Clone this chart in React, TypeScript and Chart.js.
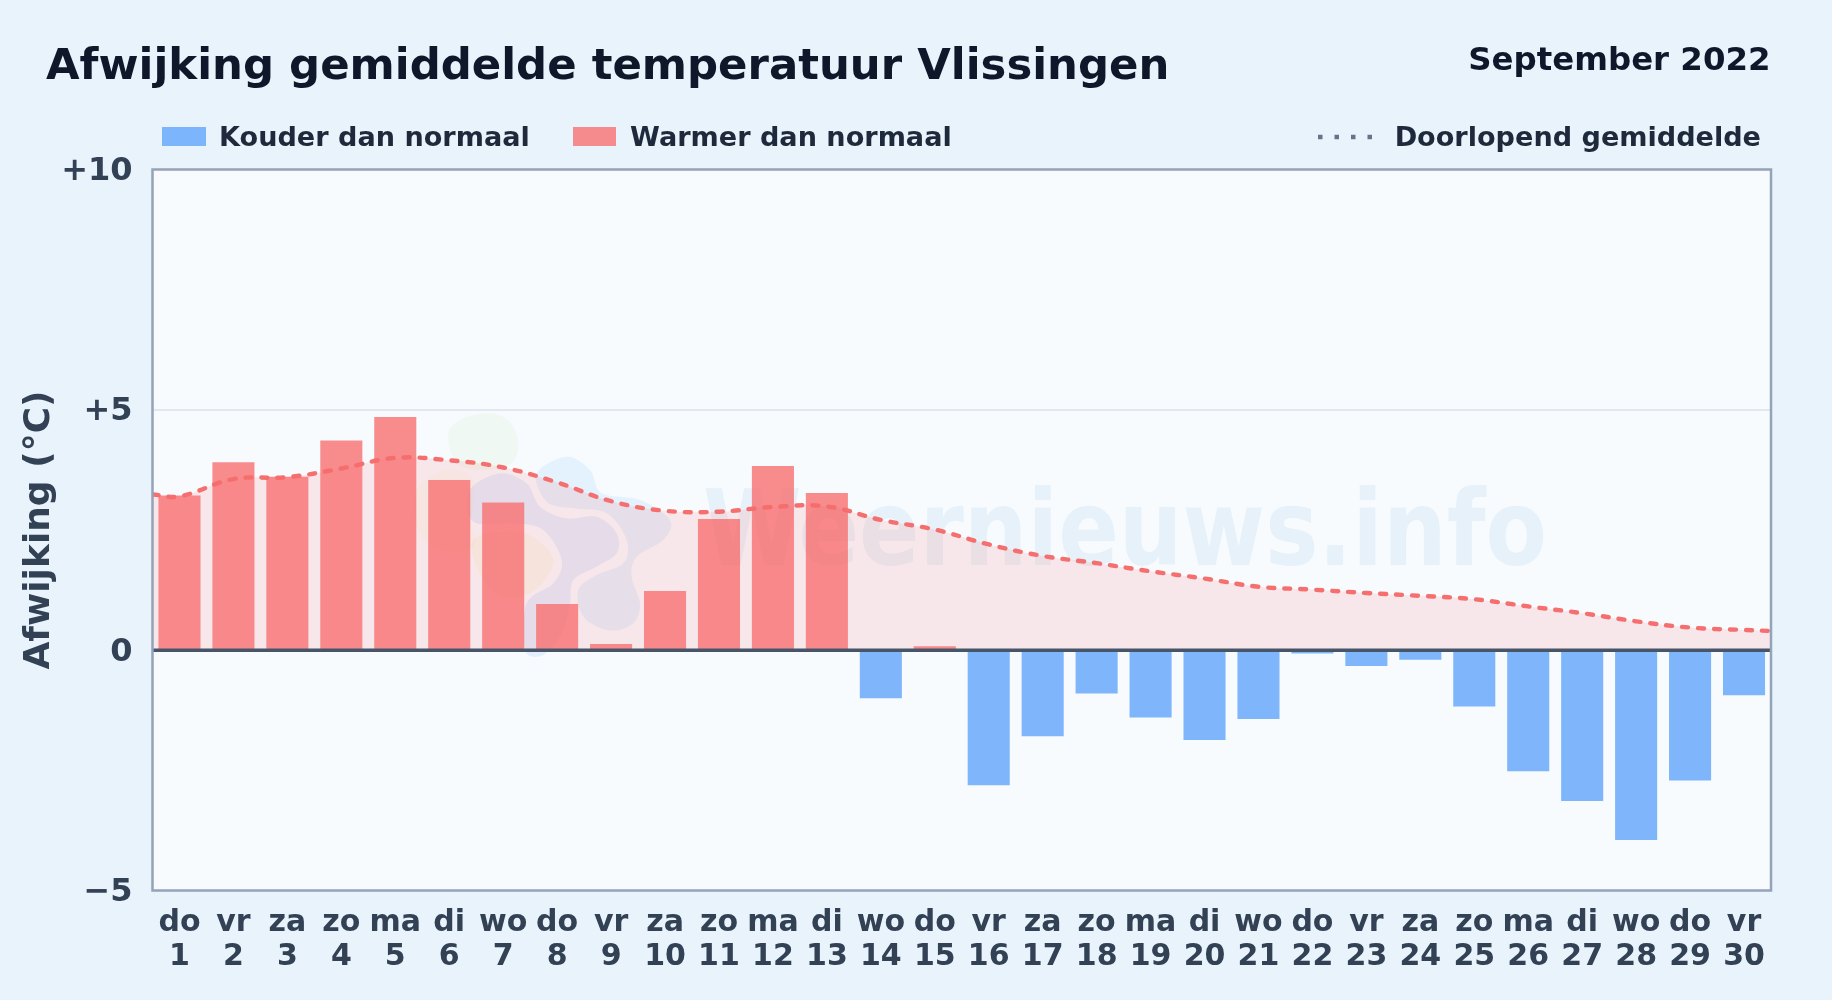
import React, { useEffect, useRef } from "react";
import { Chart, registerables } from "chart.js";

Chart.register(...registerables);

const weekdays = ["do","vr","za","zo","ma","di","wo","do","vr","za","zo","ma","di","wo","do","vr","za","zo","ma","di","wo","do","vr","za","zo","ma","di","wo","do","vr"];
const dayNumbers = ["1","2","3","4","5","6","7","8","9","10","11","12","13","14","15","16","17","18","19","20","21","22","23","24","25","26","27","28","29","30"];
const deviations = [3.22,3.91,3.61,4.36,4.85,3.54,3.07,0.96,0.13,1.23,2.73,3.83,3.27,-1.0,0.08,-2.81,-1.79,-0.9,-1.4,-1.87,-1.43,-0.07,-0.33,-0.2,-1.17,-2.52,-3.14,-3.95,-2.71,-0.94];
const trendDays = [0.5,1,2,3,4,5,6,7,8,9,10,11,12,13,14,15,16,17,18,19,20,21,22,23,24,25,26,27,28,29,30,30.5];
const trendValues = [3.24,3.2,3.56,3.6,3.78,4.0,3.95,3.8,3.49,3.1,2.9,2.88,2.98,2.99,2.71,2.51,2.2,1.96,1.81,1.64,1.49,1.32,1.26,1.19,1.13,1.06,0.91,0.77,0.6,0.47,0.42,0.4];
const yTicks = [-5, 0, 5, 10];

const titleText = "Afwijking gemiddelde temperatuur Vlissingen";
const periodText = "September 2022";
const watermarkText = "Weernieuws.info";
const FONT = '"DejaVu Sans", sans-serif';
const COLD = "rgba(96,165,250,0.8)";
const WARM = "rgba(248,113,113,0.8)";

// Decorative watermark outlines (not data)
const mapGreen = [[325,130],[370,85],[450,70],[510,95],[535,160],[515,220],[440,240],[350,220]];
const mapYellowLeft = [[230,300],[320,240],[400,270],[395,400],[400,470],[300,480],[235,420]];
const mapYellow = [[400,450],[480,425],[570,435],[640,510],[585,600],[480,620],[410,530]];
const mapCentre = [[390,300],[480,250],[560,280],[600,350],[680,385],[770,380],[830,430],[830,490],[770,530],[700,570],[690,640],[665,730],[610,795],[555,780],[560,640],[640,580],[665,510],[610,420],[520,400],[400,395]];
const mapBlue = [[590,250],[680,200],[750,240],[785,310],[900,330],[990,390],[970,450],[890,500],[875,560],[900,640],[880,700],[810,722],[730,680],[715,600],[770,555],[850,520],[860,450],[800,370],[700,355],[620,335]];

function blob(ctx: CanvasRenderingContext2D, pts: number[][], fill: string) {
  const p = pts.map(([x, y]) => [340 + x / 3, 390 + y / 3]);
  const n = p.length;
  ctx.fillStyle = fill;
  ctx.beginPath();
  ctx.moveTo(p[0][0], p[0][1]);
  for (let i = 0; i < n; i++) {
    const a = p[(i - 1 + n) % n], b = p[i], c = p[(i + 1) % n], d = p[(i + 2) % n];
    ctx.bezierCurveTo(b[0] + (c[0] - a[0]) / 6, b[1] + (c[1] - a[1]) / 6, c[0] - (d[0] - b[0]) / 6, c[1] - (d[1] - b[1]) / 6, c[0], c[1]);
  }
  ctx.closePath();
  ctx.fill();
}

let labelsShifted = false;

const backdrop = {
  id: "backdrop",
  beforeDraw(chart: any) {
    const { ctx, chartArea: a } = chart;
    ctx.save();
    ctx.fillStyle = "#f7fbfe";
    ctx.fillRect(a.left, a.top, a.right - a.left, a.bottom - a.top);
    ctx.restore();
    const items = chart.scales.y.getLabelItems();
    if (!labelsShifted) {
      items.forEach((it: any) => { it.options.translation[1] += 2.3; });
      labelsShifted = true;
    }
  },
  beforeDatasetsDraw(chart: any) {
    const { ctx } = chart;
    ctx.save();
    blob(ctx, mapGreen, "rgba(180,220,130,0.09)");
    blob(ctx, mapYellowLeft, "rgba(245,225,150,0.10)");
    blob(ctx, mapYellow, "rgba(245,225,150,0.16)");
    blob(ctx, mapBlue, "rgba(125,200,250,0.16)");
    blob(ctx, mapCentre, "rgba(59,130,246,0.10)");
    ctx.fillStyle = "rgba(40,120,190,0.075)";
    ctx.font = `bold 105px ${FONT}`;
    ctx.textAlign = "left";
    ctx.textBaseline = "alphabetic";
    const fit = 844 / ctx.measureText(watermarkText).width;
    ctx.translate(703, 565);
    ctx.scale(fit, 1);
    ctx.fillText(watermarkText, 0, 0);
    ctx.restore();
  },
  afterDatasetsDraw(chart: any) {
    const { ctx, chartArea: a, scales } = chart;
    const zero = scales.y.getPixelForValue(0);
    ctx.save();
    ctx.strokeStyle = "#475569";
    ctx.lineWidth = 3.5;
    ctx.beginPath();
    ctx.moveTo(a.left, zero);
    ctx.lineTo(a.right, zero);
    ctx.stroke();
    ctx.strokeStyle = "#94a3b8";
    ctx.lineWidth = 2.5;
    ctx.strokeRect(a.left, a.top, a.right - a.left, a.bottom - a.top);
    ctx.restore();
  },
  afterDraw(chart: any) {
    const { ctx, data } = chart;
    const [cold, warm, trend] = data.datasets;
    ctx.save();
    ctx.textBaseline = "alphabetic";
    ctx.textAlign = "left";
    ctx.fillStyle = "#0f172a";
    ctx.font = `bold 43.4px ${FONT}`;
    ctx.fillText(titleText, 46, 79);
    ctx.textAlign = "right";
    ctx.font = `bold 32.4px ${FONT}`;
    ctx.fillText(periodText, 1770.5, 70);
    ctx.textAlign = "left";
    ctx.font = `bold 27.1px ${FONT}`;
    ctx.fillStyle = COLD;
    ctx.fillRect(162, 127, 44, 19);
    ctx.fillStyle = WARM;
    ctx.fillRect(573, 127, 43, 19);
    ctx.fillStyle = "#1e293b";
    ctx.fillText(cold.label, 219, 146);
    ctx.fillText(warm.label, 630, 146);
    ctx.textAlign = "right";
    ctx.fillText(trend.label, 1761, 146);
    ctx.strokeStyle = "#64748b";
    ctx.lineWidth = 4.5;
    ctx.setLineDash([4.5, 12]);
    ctx.beginPath();
    ctx.moveTo(1318, 137);
    ctx.lineTo(1378, 137);
    ctx.stroke();
    ctx.restore();
  },
};

export default function App() {
  const ref = useRef<HTMLCanvasElement>(null);
  useEffect(() => {
    labelsShifted = false;
    const chart = new Chart(ref.current!, {
      type: "bar",
      plugins: [backdrop],
      data: {
        labels: weekdays.map((d, i) => [d, dayNumbers[i]]),
        datasets: [
          { label: "Kouder dan normaal", data: deviations.map((v) => (v < 0 ? v : null)), backgroundColor: COLD, barPercentage: 0.78, categoryPercentage: 1, grouped: false, order: 2 },
          { label: "Warmer dan normaal", data: deviations.map((v) => (v >= 0 ? v : null)), backgroundColor: WARM, barPercentage: 0.78, categoryPercentage: 1, grouped: false, order: 2 },
          {
            type: "line",
            label: "Doorlopend gemiddelde",
            data: trendDays.map((x, i) => ({ x, y: trendValues[i] })),
            xAxisID: "xLine",
            borderColor: "rgba(246,108,108,0.98)",
            borderWidth: 4.4,
            borderDash: [6, 10],
            borderCapStyle: "round",
            pointRadius: 0,
            tension: 0.4,
            fill: "origin",
            backgroundColor: "rgba(248,113,113,0.14)",
            order: 1,
          } as any,
        ],
      },
      options: {
        responsive: false,
        animation: false,
        layout: { padding: { left: 0, right: 61, top: 169.5, bottom: 0 } },
        plugins: { legend: { display: false }, title: { display: false }, tooltip: { enabled: false } },
        scales: {
          x: {
            type: "category",
            grid: { display: false },
            border: { display: false },
            afterFit: (s: any) => { s.height = 109.5; },
            ticks: { autoSkip: false, maxRotation: 0, minRotation: 0, padding: 8, color: "#334155", font: { family: FONT, weight: "bold", size: 30, lineHeight: 1.13 } },
          },
          xLine: { type: "linear", display: false, offset: false, min: 0.5, max: 30.5 },
          y: {
            min: yTicks[0],
            max: yTicks[yTicks.length - 1],
            afterFit: (s: any) => { s.width = 152.5; },
            afterBuildTicks: (s: any) => { s.ticks = yTicks.map((value) => ({ value })); },
            border: { display: false },
            grid: { drawTicks: false, lineWidth: 2, color: (c: any) => (c.tick.value === 5 ? "#e2e8f0" : "rgba(0,0,0,0)") },
            ticks: {
              padding: 20,
              color: "#334155",
              font: { family: FONT, weight: "bold", size: 32 },
              callback: (v: any) => (v > 0 ? `+${v}` : v < 0 ? `\u2212${-v}` : "0"),
            },
            title: { display: true, text: "Afwijking (°C)", color: "#334155", padding: 18, font: { family: FONT, weight: "bold", size: 36 } },
          },
        },
      },
    } as any);
    return () => chart.destroy();
  }, []);
  return (
    <div style={{ position: "fixed", left: 0, top: 0, width: 1832, height: 1000, background: "linear-gradient(135deg,#e8f3fc,#e9f3fc)" }}>
      <canvas ref={ref} width={1832} height={1000} style={{ display: "block" }} />
    </div>
  );
}
